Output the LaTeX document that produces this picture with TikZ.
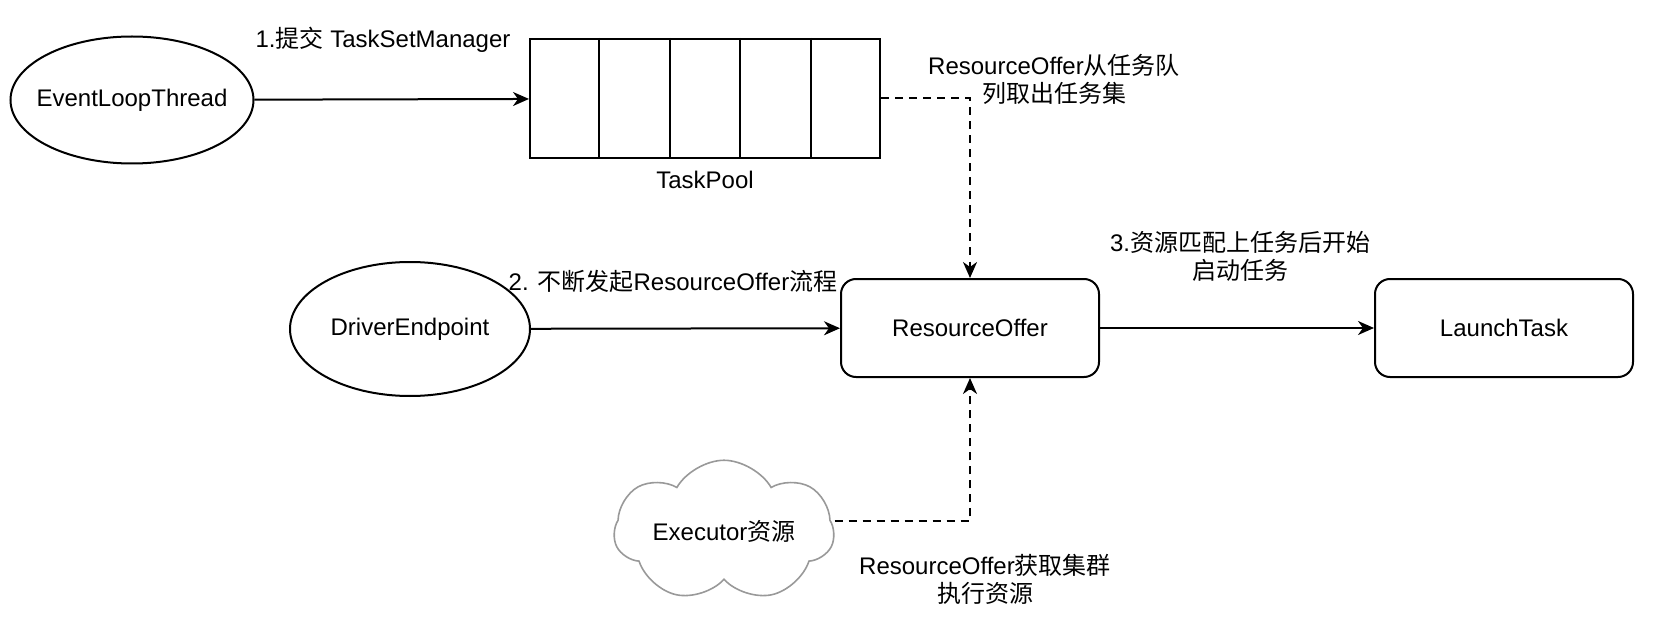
\documentclass[tikz,border=0pt]{standalone}
\usepackage{fontspec}
\setmainfont{Liberation Sans}
\newfontfamily\cjk{Noto Sans CJK SC}
\usetikzlibrary{shapes.geometric,shapes.symbols,arrows.meta,calc}
\begin{document}
\begin{tikzpicture}[x=0.5pt,y=-0.5pt,
  every node/.style={font=\fontsize{12}{14}\selectfont},
  oval/.style={draw,line width=1pt,ellipse,inner xsep=-12pt,inner ysep=0pt},
  box/.style={draw,line width=1pt,rectangle,inner sep=0pt},
  rbox/.style={draw,line width=1pt,rectangle,rounded corners=7.5pt,minimum width=129pt,minimum height=49pt,inner sep=0pt},
  lbl/.style={align=center,inner sep=0pt},
  arr/.style={line width=1pt,-{Stealth[length=8pt,width=7pt,inset=2.5pt]}},
  darr/.style={arr,dash pattern=on 4pt off 3pt},
  cloudbox/.style={draw=gray!80,line width=0.8pt,cloud,cloud puffs=7,cloud puff arc=120,aspect=2,minimum width=110pt,minimum height=55pt,inner sep=0pt}
]
\useasboundingbox (0,0) rectangle (1656,626);

\node[oval,minimum width=121.5pt,minimum height=63.5pt] (elt) at (132,100) {EventLoopThread};
\node[box,minimum width=175pt,minimum height=59.5pt] (tp) at (705,98.5) {};
\foreach \f in {0.2,0.4,0.6,0.8}{
  \draw[line width=1pt] ($(tp.north west)!\f!(tp.north east)$) -- ($(tp.south west)!\f!(tp.south east)$);
}
\node[lbl] (tpl) at (705,180) {TaskPool};
\node[lbl] (l1) at (383,40) {1.{\cjk 提交} TaskSetManager};

\node[rbox] (ro) at (970,328) {ResourceOffer};
\node[oval,minimum width=120pt,minimum height=67pt] (de) at (410,329) {DriverEndpoint};
\node[rbox] (lt) at (1504,328) {LaunchTask};
\node[cloudbox] (ex) at (724,531) {Executor{\cjk 资源}};

\node[lbl] (l2) at (1054,79) {ResourceOffer{\cjk 从任务队}\\{\cjk 列取出任务集}};
\node[lbl] (l3) at (673,281) {2. {\cjk 不断发起}ResourceOffer{\cjk 流程}};
\node[lbl] (l4) at (1240,256) {3.{\cjk 资源匹配上任务后开始}\\{\cjk 启动任务}};
\node[lbl] (l5) at (985,579) {ResourceOffer{\cjk 获取集群}\\{\cjk 执行资源}};

\draw[arr] (elt) -- (tp);
\draw[arr] (de) -- (ro);
\draw[arr] (ro) -- (lt);
\draw[darr] (tp.east) -| (ro.north);
\draw[darr] ([yshift=5pt]ex.east) -| (ro.south);
\end{tikzpicture}
\end{document}
